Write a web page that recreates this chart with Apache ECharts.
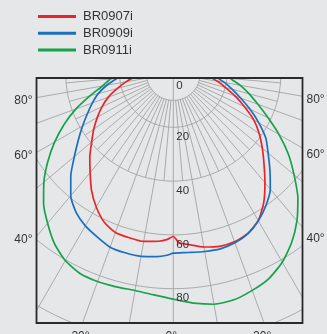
<!DOCTYPE html>
<html><head><meta charset="utf-8">
<script src="https://cdn.jsdelivr.net/npm/echarts@6/dist/echarts.min.js"></script>
<style>html,body{margin:0;padding:0;background:#e6e7e9;}#c{width:327px;height:334px;}</style>
</head><body><div id="c"></div>
<script>
// ---- data ----
const seriesNames = ['BR0907i', 'BR0909i', 'BR0911i'];
const angles = [-90,-85,-80,-75,-70,-65,-60,-55,-50,-45,-40,-35,-30,-25,-20,-15,-10,-5,-2,0,2,5,10,15,20,25,30,35,40,45,50,55,60,65,70,75,80,85,90];
const br0907i = [11.5,14.4,17.9,21.5,25.7,29.2,32.6,36.1,39.6,43.9,48.1,53.0,57.3,60.9,62.9,63.2,63.4,62.6,61.7,60.6,63.0,63.8,65.5,66.5,66.6,65.6,63.2,58.6,53.0,47.7,43.2,39.0,34.6,29.2,24.4,20.0,16.7,13.6,11.5];
const br0909i = [18.5,21.1,25.1,28.9,32.0,35.2,38.9,43.1,48.0,53.9,59.3,63.0,65.4,67.0,68.7,69.0,69.0,68.3,67.6,66.8,66.7,66.8,67.2,67.5,67.0,65.7,63.2,60.0,56.1,50.8,46.0,42.0,36.7,31.5,26.6,22.7,19.4,16.2,14.5];
const br0911i = [20.5,23.5,26.7,32.1,38.5,44.8,50.9,56.9,62.8,68.2,72.7,77.1,80.3,82.0,82.3,82.1,81.9,82.6,83.3,83.9,84.6,85.7,87.1,87.1,85.8,84.1,81.0,76.7,71.5,65.5,58.6,52.2,45.4,38.8,33.5,29.2,25.3,21.4,20.0];
const ringValues = [10, 20, 40, 60, 80, 100];
const ringLabels = [0, 20, 40, 60, 80];
const majorAngles = [-90,-80,-70,-60,-50,-40,-30,-20,-10,0,10,20,30,40,50,60,70,80,90];
const minorAngles = [-85,-75,-65,-55,-45,-35,-25,-15,-5,5,15,25,35,45,55,65,75,85];
const sideAngleLabels = [80, 60, 40];
const bottomAngleLabels = [-20, 0, 20];

// ---- layout / style ----
const BG = '#e6e7e9';
const box = {left: 36.5, top: 78, right: 302.5, bottom: 323};
const center = [173.3, 73.5];
const unitPx = 2.69;
const rMax = 110;
const gridColor = '#a4a4a4';
const colors = ['#e8242b', '#1c6fbe', '#16a24b'];
const FONT = '"Liberation Sans", Arial, sans-serif';

const chart = echarts.init(document.getElementById('c'));

const gridSeries = [];
const gridLine = {type: 'line', coordinateSystem: 'polar', silent: true, symbol: 'none', showSymbol: false, z: 1,
  lineStyle: {color: gridColor, width: 0.9}, emphasis: {disabled: true}};
ringValues.forEach(v => {
  const d = [];
  for (let a = -180; a <= 180; a += 2) d.push([v, a]);
  gridSeries.push(Object.assign({}, gridLine, {data: d}));
});
majorAngles.forEach(a => {
  gridSeries.push(Object.assign({}, gridLine, {data: [[a === 0 ? 0 : 10, a], [rMax, a]]}));
});
minorAngles.forEach(a => {
  gridSeries.push(Object.assign({}, gridLine, {data: [[10, a], [40, a]]}));
});

const valueSets = [br0907i, br0909i, br0911i];
const curveSeries = seriesNames.map((n, i) => ({
  name: n, type: 'line', coordinateSystem: 'polar', symbol: 'none', showSymbol: false, smooth: 0.2, z: 3,
  color: colors[i], lineStyle: {color: colors[i], width: 1.7},
  data: angles.map((a, k) => [valueSets[i][k], a])
}));

chart.setOption({
  animation: false,
  backgroundColor: BG,
  polar: {center: center, radius: rMax * unitPx},
  angleAxis: {type: 'value', min: -180, max: 180, startAngle: 90, clockwise: false, show: false},
  radiusAxis: {type: 'value', min: 0, max: rMax, show: false},
  legend: {data: seriesNames, orient: 'vertical', left: 38, top: 9, padding: 0, itemWidth: 38, itemHeight: 3, itemGap: 1.8,
    icon: 'rect', z: 100, selectedMode: false,
    textStyle: {fontSize: 13, color: '#333', fontFamily: FONT, lineHeight: 15, padding: [0, 0, 0, 2]}},
  series: gridSeries.concat(curveSeries)
});

function toPx(r, a) {
  let p = null;
  try { p = chart.convertToPixel({polarIndex: 0}, [r, a]); } catch (e) { p = null; }
  if (!p || isNaN(p[0])) {
    const rad = a * Math.PI / 180;
    p = [center[0] + r * unitPx * Math.sin(rad), center[1] + r * unitPx * Math.cos(rad)];
  }
  return p;
}
const c0 = toPx(0, 0);
function dirOf(a) { const p = toPx(100, a); return [p[0] - c0[0], p[1] - c0[1]]; }

const g = [];
// masks outside the frame
g.push({type: 'rect', shape: {x: 0, y: 0, width: 327, height: box.top}, style: {fill: BG}, z: 50, silent: true});
g.push({type: 'rect', shape: {x: 0, y: 0, width: box.left, height: 334}, style: {fill: BG}, z: 50, silent: true});
g.push({type: 'rect', shape: {x: box.right, y: 0, width: 327 - box.right, height: 334}, style: {fill: BG}, z: 50, silent: true});
g.push({type: 'rect', shape: {x: 0, y: box.bottom, width: 327, height: 334 - box.bottom}, style: {fill: BG}, z: 50, silent: true});
// frame
g.push({type: 'rect', shape: {x: box.left, y: box.top, width: box.right - box.left, height: box.bottom - box.top},
  style: {fill: null, stroke: '#2a2a2a', lineWidth: 1.8}, z: 60, silent: true});
// side angle labels (placed where the ray meets the left frame edge, mirrored to the right)
sideAngleLabels.forEach(a => {
  const d = dirOf(-a);
  const t = (box.left - c0[0]) / d[0];
  const y = c0[1] + t * d[1] + 3;
  g.push({type: 'text', z: 60, silent: true, x: box.left - 4, y: y,
    style: {text: a + '°', fill: '#333', font: '12px ' + FONT, align: 'right', verticalAlign: 'middle'}});
  g.push({type: 'text', z: 60, silent: true, x: box.right + 4, y: y - 0.5,
    style: {text: a + '°', fill: '#333', font: '12px ' + FONT, align: 'left', verticalAlign: 'middle'}});
});
// bottom angle labels
bottomAngleLabels.forEach(a => {
  const d = dirOf(a);
  const t = (box.bottom - c0[1]) / d[1];
  const x = c0[0] + t * d[0];
  g.push({type: 'text', z: 60, silent: true, x: x - 2, y: box.bottom + 8,
    style: {text: Math.abs(a) + '°', fill: '#333', font: '12px ' + FONT, align: 'center', verticalAlign: 'top'}});
});
// ring labels
ringLabels.forEach(v => {
  const p = toPx(v, 0);
  g.push({type: 'text', z: 60, silent: true, x: p[0] + 3, y: p[1] + (v === 0 ? 12 : 9.5),
    style: {text: String(v), fill: '#333', font: '11.5px ' + FONT, align: 'left', verticalAlign: 'middle'}});
});
chart.setOption({graphic: {elements: g}});
</script>
</body></html>
